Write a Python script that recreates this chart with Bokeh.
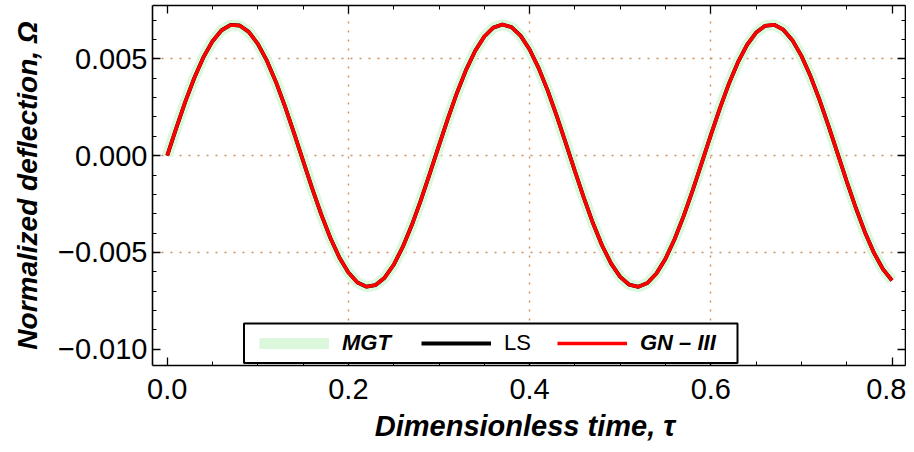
from bokeh.plotting import figure
from bokeh.models import (Range1d, LinearAxis, FixedTicker, Legend, LegendItem,
                          BoxAnnotation, ColumnDataSource, Grid)
from bokeh.embed import file_html
from bokeh.resources import INLINE

# ---- data ----
tau = [0.00, 0.01, 0.02, 0.03, 0.04, 0.05, 0.06, 0.07, 0.08, 0.09,
       0.10, 0.11, 0.12, 0.13, 0.14, 0.15, 0.16, 0.17, 0.18, 0.19,
       0.20, 0.21, 0.22, 0.23, 0.24, 0.25, 0.26, 0.27, 0.28, 0.29,
       0.30, 0.31, 0.32, 0.33, 0.34, 0.35, 0.36, 0.37, 0.38, 0.39,
       0.40, 0.41, 0.42, 0.43, 0.44, 0.45, 0.46, 0.47, 0.48, 0.49,
       0.50, 0.51, 0.52, 0.53, 0.54, 0.55, 0.56, 0.57, 0.58, 0.59,
       0.60, 0.61, 0.62, 0.63, 0.64, 0.65, 0.66, 0.67, 0.68, 0.69,
       0.70, 0.71, 0.72, 0.73, 0.74, 0.75, 0.76, 0.77, 0.78, 0.79, 0.80]

omega_mgt = [0.000000, 0.001427, 0.002790, 0.004028, 0.005086, 0.005916, 0.006480, 0.006755, 0.006727, 0.006397,
             0.005781, 0.004906, 0.003811, 0.002545, 0.001166, -0.000266, -0.001686, -0.003031, -0.004239, -0.005258,
             -0.006041, -0.006554, -0.006773, -0.006688, -0.006304, -0.005638, -0.004718, -0.003587, -0.002297, -0.000903,
             0.000532, 0.001943, 0.003267, 0.004444, 0.005422, 0.006158, 0.006617, 0.006780, 0.006639, 0.006201,
             0.005485, 0.004523, 0.003359, 0.002044, 0.000638, -0.000797, -0.002196, -0.003497, -0.004641, -0.005577,
             -0.006264, -0.006669, -0.006777, -0.006580, -0.006088, -0.005324, -0.004321, -0.003125, -0.001789, -0.000373,
             0.001061, 0.002446, 0.003722, 0.004832, 0.005724, 0.006361, 0.006712, 0.006763, 0.006511, 0.005968,
             0.005156, 0.004113, 0.002887, 0.001531, 0.000106, -0.001323, -0.002692, -0.003942, -0.005014, -0.005863, -0.006448]
omega_ls = list(omega_mgt)
omega_gn3 = list(omega_mgt)

x_major = [0.0, 0.2, 0.4, 0.6, 0.8]
x_major_labels = ["0.0", "0.2", "0.4", "0.6", "0.8"]
x_minor = [0.05, 0.10, 0.15, 0.25, 0.30, 0.35, 0.45, 0.50, 0.55, 0.65, 0.70, 0.75]
y_major = [-0.010, -0.005, 0.000, 0.005]
y_major_labels = ["\u22120.010", "\u22120.005", "0.000", "0.005"]
y_minor = [-0.011, -0.009, -0.008, -0.007, -0.006, -0.004, -0.003, -0.002, -0.001,
           0.001, 0.002, 0.003, 0.004, 0.006, 0.007]
x_grid = [0.2, 0.4, 0.6]
y_grid = [-0.005, 0.0, 0.005]

series_names = ["MGT", "LS", "GN \u2013 III"]

FONT = "Liberation Sans"

src = ColumnDataSource(dict(t=tau, mgt=omega_mgt, ls=omega_ls, gn=omega_gn3))

p = figure(width=906, height=444, output_backend="svg", toolbar_location=None,
           x_range=Range1d(-0.01623, 0.8149), y_range=Range1d(-0.010843, 0.0077595),
           min_border_left=152, min_border_right=1, min_border_top=5, min_border_bottom=77,
           x_axis_type=None, y_axis_type=None)
p.outline_line_color = None
p.background_fill_color = "white"
p.border_fill_color = "white"

def style_axis(ax, major, minor, show_labels):
    ax.ticker = FixedTicker(ticks=major, minor_ticks=minor)
    ax.axis_line_color = "black"
    ax.axis_line_width = 1.6
    ax.major_tick_in = 8
    ax.major_tick_out = 0
    ax.minor_tick_in = 4
    ax.minor_tick_out = 0
    ax.major_tick_line_color = "black"
    ax.minor_tick_line_color = "black"
    ax.major_tick_line_width = 1.3
    ax.minor_tick_line_width = 1.0
    ax.major_label_text_font = FONT
    if show_labels:
        ax.major_label_text_font_size = "29px"
        ax.major_label_text_color = "black"
    else:
        ax.major_label_text_font_size = "0px"
        ax.major_label_standoff = 0
        ax.major_label_text_alpha = 0

xb = LinearAxis()
style_axis(xb, x_major, x_minor, True)
xb.major_label_overrides = dict(zip(x_major, x_major_labels))
xb.major_label_standoff = 13
xb.axis_label = "Dimensionless time,  \u03c4"
xb.axis_label_text_font = FONT
xb.axis_label_text_font_style = "bold italic"
xb.axis_label_text_font_size = "29px"
xb.axis_label_text_color = "black"
xb.axis_label_standoff = 8
p.add_layout(xb, "below")

yl = LinearAxis()
style_axis(yl, y_major, y_minor, True)
yl.major_label_overrides = dict(zip(y_major, y_major_labels))
yl.major_label_standoff = 5
yl.axis_label = "Normalized deflection, \u03a9"
yl.axis_label_text_font = FONT
yl.axis_label_text_font_style = "bold italic"
yl.axis_label_text_font_size = "28px"
yl.axis_label_text_color = "black"
yl.axis_label_standoff = 12
p.add_layout(yl, "left")

xa = LinearAxis()
style_axis(xa, x_major, x_minor, False)
p.add_layout(xa, "above")

yr = LinearAxis()
style_axis(yr, y_major, y_minor, False)
p.add_layout(yr, "right")

gx = Grid(dimension=0, ticker=FixedTicker(ticks=x_grid))
gy = Grid(dimension=1, ticker=FixedTicker(ticks=y_grid))
for g in (gx, gy):
    g.grid_line_color = "#c8915e"
    g.grid_line_dash = "2 7"
    g.grid_line_width = 1.4
p.add_layout(gx)
p.add_layout(gy)

r_mgt = p.line("t", "mgt", source=src, line_color="#dcf8dc", line_width=11)
r_ls = p.line("t", "ls", source=src, line_color="black", line_width=3.8)
r_gn = p.line("t", "gn", source=src, line_color="#ff0000", line_width=3.5)

# legend frame
box = BoxAnnotation(left=91.5, right=585, bottom=2.4, top=42,
                    left_units="screen", right_units="screen",
                    bottom_units="screen", top_units="screen",
                    fill_color="white", fill_alpha=1.0,
                    line_color="black", line_width=2, line_alpha=1.0)
p.add_layout(box)

def make_legend(label, renderer, x, style):
    lg = Legend(items=[LegendItem(label=label, renderers=[renderer])],
                location=(x, 7), orientation="horizontal",
                padding=0, margin=0, spacing=0,
                glyph_width=70, glyph_height=30, label_height=30,
                label_standoff=13,
                label_text_font=FONT, label_text_font_size="22px",
                label_text_font_style=style, label_text_color="black",
                border_line_color=None, background_fill_alpha=0)
    p.add_layout(lg, "center")
    return lg

make_legend(series_names[0], r_mgt, 107, "bold italic")
make_legend(series_names[1], r_ls, 269, "normal")
make_legend(series_names[2], r_gn, 405, "bold italic")

open("out.html", "w").write(file_html(p, INLINE))
